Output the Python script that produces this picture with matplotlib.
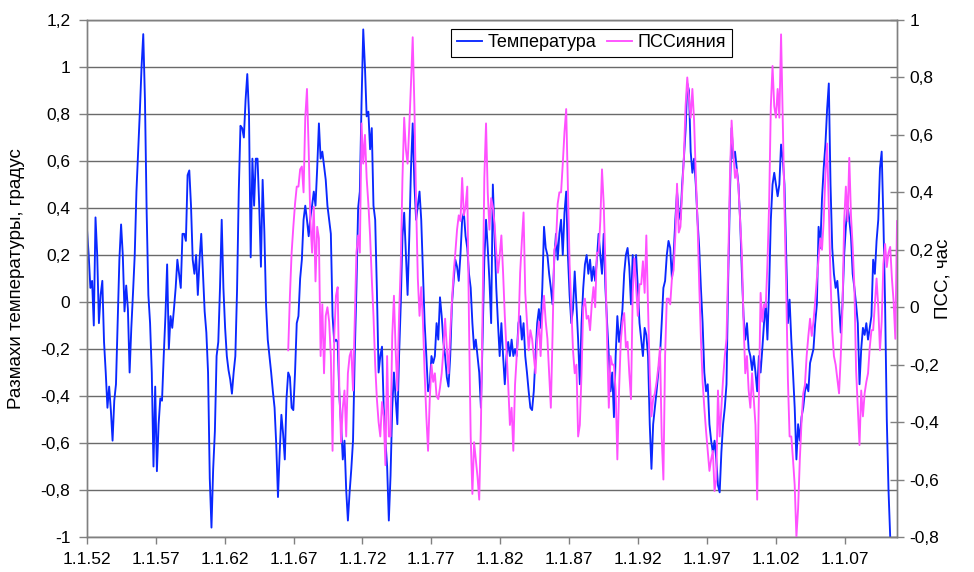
import numpy as np
import matplotlib.pyplot as plt

plt.rcParams['font.family'] = ['Liberation Sans', 'DejaVu Sans']

# readings every ~1.5 months starting January 1952
start_year = 1952.0
step = 0.1238
aurora_start = 118  # index of the first aurora reading (mid 1966)

# temperature range, degrees (left axis)
temp_1952 = [0.31, 0.20, 0.06, 0.09, -0.10, 0.36, 0.20, -0.09, 0.03, 0.09,
             -0.17, -0.30, -0.45, -0.36, -0.46, -0.59, -0.42, -0.35, -0.09, 0.18,
             0.33, 0.20, -0.04, 0.07, -0.03, -0.30, -0.11, 0.04, 0.20, 0.47,
             0.64, 0.81, 1.00, 1.14, 0.86, 0.38, 0.03, -0.09, -0.30, -0.70,
             -0.36, -0.72, -0.52, -0.41, -0.42, -0.23, -0.06, 0.16, -0.20, -0.06,
             -0.11, -0.03, 0.06, 0.18, 0.12, 0.06, 0.29, 0.29, 0.26, 0.54,
             0.56, 0.41, 0.18, 0.12, 0.20, 0.03, 0.18, 0.29, 0.12, -0.04,
             -0.13, -0.30]
temp_1961 = [-0.75, -0.96, -0.71, -0.55, -0.23, -0.17, 0.06, 0.35, 0.06, -0.11,
             -0.23, -0.29, -0.33, -0.39, -0.30, -0.23, 0.05, 0.47, 0.75, 0.74,
             0.70, 0.86, 0.97, 0.80, 0.19, 0.61, 0.41, 0.61, 0.61, 0.41,
             0.15, 0.52, 0.30, -0.01, -0.16, -0.23, -0.30, -0.38, -0.45, -0.61,
             -0.83, -0.64, -0.48, -0.56, -0.67, -0.41, -0.30, -0.32, -0.45, -0.46,
             -0.30, -0.09, -0.06, 0.10, 0.18, 0.35, 0.41, 0.35, 0.28, 0.36,
             0.41, 0.47, 0.41, 0.57, 0.76, 0.61, 0.64, 0.58, 0.52, 0.41,
             0.35, 0.29, -0.06, -0.17, -0.16, -0.17]
temp_1970 = [-0.40, -0.52, -0.67, -0.59, -0.80, -0.93, -0.81, -0.71, -0.59, -0.23,
             0.06, 0.40, 0.47, 0.85, 1.16, 1.00, 0.79, 0.81, 0.65, 0.74,
             0.41, 0.35, 0.05, -0.30, -0.23, -0.19, -0.45, -0.59, -0.70, -0.93,
             -0.74, -0.45, -0.30, -0.41, -0.52, -0.23, -0.01, 0.28, 0.38, 0.20,
             0.03, 0.28, 0.57, 0.76, 0.50, 0.35, 0.41, 0.47, 0.35, 0.13,
             -0.09, -0.23, -0.38, -0.35, -0.23, -0.26, -0.23, -0.09, -0.16, 0.02,
             -0.06, -0.17, -0.23, -0.32, -0.36, -0.23, -0.01, 0.09, 0.18, 0.15,
             0.09, 0.20, 0.35, 0.38, 0.28, 0.23]
temp_1980 = [0.12, 0.06, -0.09, -0.20, -0.16, -0.23, -0.30, -0.45, -0.15, 0.18,
             0.35, 0.23, 0.09, -0.09, 0.50, 0.28, 0.06, -0.09, -0.23, -0.09,
             -0.23, -0.35, -0.23, -0.17, -0.23, -0.16, -0.23, -0.20, -0.23, -0.09,
             -0.06, -0.16, -0.09, -0.23, -0.30, -0.38, -0.45, -0.46, -0.38, -0.23,
             -0.09, -0.03, -0.11, 0.06, 0.32, 0.23, 0.20, 0.12, 0.06, -0.01,
             0.18, 0.29, 0.18, 0.29, 0.35, 0.20, 0.38, 0.47, 0.20, 0.03,
             -0.09, -0.03, 0.13, -0.01, -0.16, -0.35, -0.09, 0.06, 0.16, 0.20,
             0.12, 0.18, 0.09, 0.15, 0.09, 0.18]
temp_1989 = [0.29, 0.20, 0.12, 0.29, 0.06, -0.09, -0.23, -0.38, -0.30, -0.49,
             -0.23, -0.06, -0.17, -0.11, -0.03, 0.12, 0.20, 0.23, 0.15, -0.01,
             0.20, 0.12, 0.20, 0.06, -0.09, -0.16, -0.23, -0.11, -0.14, -0.23,
             -0.52, -0.71, -0.52, -0.45, -0.38, -0.30, -0.23, -0.09, 0.06, 0.09,
             0.20, 0.26, 0.23, 0.10, 0.20, 0.35, 0.47, 0.38, 0.35, 0.50,
             0.61, 0.73, 0.93, 0.90, 0.64, 0.55, 0.61, 0.50, 0.35, 0.23,
             0.06, -0.09, -0.30, -0.38, -0.35, -0.52, -0.59, -0.64, -0.59, -0.67,
             -0.78, -0.81, -0.64, -0.52, -0.45, -0.35]
temp_1999 = [0.10, 0.45, 0.74, 0.61, 0.64, 0.57, 0.50, 0.35, 0.13, -0.06,
             -0.16, -0.09, -0.20, -0.23, -0.29, -0.23, -0.30, -0.38, -0.23, -0.30,
             -0.20, -0.09, 0.00, -0.16, 0.06, 0.35, 0.50, 0.55, 0.50, 0.45,
             0.50, 0.67, 0.61, 0.50, 0.20, -0.09, 0.01, -0.16, -0.30, -0.45,
             -0.67, -0.52, -0.59, -0.49, -0.45, -0.38, -0.35, -0.38, -0.26, -0.23,
             -0.20, -0.09, -0.01, 0.32, 0.23, 0.44, 0.57, 0.67, 0.82, 0.93,
             0.50, 0.23, 0.12, 0.06, 0.09, -0.01, -0.13, -0.01, 0.20, 0.32,
             0.41, 0.35, 0.28, 0.12, 0.06, -0.01, -0.09, -0.35, -0.20, -0.11,
             -0.14, -0.09, -0.16, -0.11, -0.06, 0.18, 0.12, 0.26, 0.35, 0.57,
             0.64, 0.35, -0.01, -0.50, -0.80, -1.00]

# aurora duration, hours (right axis)
aurora_1966 = [-0.15, 0.04, 0.19, 0.28, 0.36, 0.42, 0.42, 0.48, 0.49, 0.40,
               0.66, 0.76, 0.55, 0.30, 0.19, 0.35, 0.09, 0.28, 0.24, -0.17,
               0.01, -0.23, -0.03, 0.00, -0.05, -0.17, -0.50, -0.10, 0.04, 0.07]
aurora_1970 = [-0.29, -0.47, -0.35, -0.29, -0.45, -0.23, -0.17, -0.15, -0.29, -0.05,
               0.19, 0.25, 0.19, 0.64, 0.50, 0.60, 0.45, 0.36, 0.25, 0.10,
               -0.03, -0.20, -0.32, -0.40, -0.45, -0.33, -0.38, -0.55, -0.17, -0.45,
               -0.45, -0.10, 0.04, -0.15, -0.29, -0.03, 0.15, 0.45, 0.66, 0.55,
               0.50, 0.63, 0.78, 0.94, 0.70, 0.36, 0.10, -0.03, 0.07, -0.05,
               -0.23, -0.38, -0.50, -0.32, -0.20, -0.26, -0.23, -0.31, -0.32, -0.28,
               -0.23, -0.15, -0.04, -0.14, -0.23, -0.09, 0.02, 0.12, 0.19, 0.27,
               0.32, 0.30, 0.45, 0.32, 0.35, 0.42]
aurora_1980 = [-0.05, -0.45, -0.65, -0.47, -0.53, -0.59, -0.67, -0.41, 0.00, 0.45,
               0.64, 0.40, 0.27, 0.38, 0.35, 0.29, 0.19, 0.12, 0.18, 0.25,
               0.12, -0.03, -0.15, -0.27, -0.41, -0.35, -0.50, -0.27, -0.17, -0.08,
               0.12, 0.23, 0.33, 0.05, -0.05, -0.15, -0.08, -0.11, -0.17, -0.23,
               -0.11, -0.05, -0.17, -0.03, 0.04, -0.05, -0.11, -0.23, -0.35, -0.10,
               0.20, 0.22, 0.36, 0.40, 0.40, 0.50, 0.61, 0.69, 0.42, 0.15,
               0.00, -0.15, -0.23, -0.20, -0.45, -0.41, -0.23, 0.00, 0.03, -0.04,
               -0.03, -0.08, 0.01, 0.07, 0.00, 0.19]
aurora_1989 = [0.19, 0.30, 0.48, 0.36, 0.15, -0.12, -0.35, -0.17, -0.20, -0.20,
               -0.29, -0.53, -0.29, -0.12, -0.05, -0.02, -0.14, -0.12, -0.23, -0.32,
               0.05, 0.17, 0.07, -0.03, 0.08, 0.08, 0.16, 0.05, 0.25, 0.00,
               -0.23, -0.38, -0.32, -0.30, -0.26, -0.21, -0.14, -0.45, -0.60, -0.17,
               0.03, 0.03, 0.01, 0.10, 0.13, 0.25, 0.43, 0.26, 0.28, 0.40,
               0.52, 0.70, 0.80, 0.73, 0.66, 0.76, 0.65, 0.46, 0.30, 0.08,
               -0.11, -0.26, -0.35, -0.43, -0.50, -0.57, -0.53, -0.50, -0.64, -0.60,
               -0.29, -0.45, -0.35, -0.25, -0.17, -0.11]
aurora_1999 = [0.15, 0.45, 0.65, 0.54, 0.45, 0.48, 0.42, 0.30, 0.19, -0.05,
               -0.23, -0.17, -0.29, -0.35, -0.23, -0.32, -0.41, -0.67, -0.30, 0.05,
               -0.05, 0.01, 0.00, 0.15, 0.36, 0.70, 0.84, 0.70, 0.66, 0.76,
               0.66, 0.95, 0.65, 0.35, 0.07, -0.25, -0.45, -0.45, -0.53, -0.62,
               -0.80, -0.70, -0.53, -0.40, -0.30, -0.27, -0.17, -0.10, -0.04, -0.10,
               -0.05, 0.02, 0.10, 0.17, 0.24, 0.20, 0.30, 0.46, 0.57, 0.35,
               0.10, -0.08, -0.17, -0.20, -0.25, -0.30, -0.17, -0.01, 0.30, 0.42,
               0.30, 0.52, 0.32, 0.21, 0.07, -0.22, -0.35, -0.48, -0.29, -0.38,
               -0.30, -0.26, -0.23, -0.14, -0.08, -0.08, 0.01, 0.10, 0.00, -0.15,
               -0.05, 0.15, 0.22, 0.14, 0.19, 0.21, 0.10, 0.02, -0.11, 0.30]

tick_years = [1952, 1957, 1962, 1967, 1972, 1977, 1982, 1987, 1992, 1997, 2002, 2007]
tick_labels = ['1.1.52', '1.1.57', '1.1.62', '1.1.67', '1.1.72', '1.1.77',
               '1.1.82', '1.1.87', '1.1.92', '1.1.97', '1.1.02', '1.1.07']
left_ticks = [-1, -0.8, -0.6, -0.4, -0.2, 0, 0.2, 0.4, 0.6, 0.8, 1, 1.2]
left_labels = ['-1', '-0,8', '-0,6', '-0,4', '-0,2', '0', '0,2', '0,4', '0,6', '0,8', '1', '1,2']
right_ticks = [-0.8, -0.6, -0.4, -0.2, 0, 0.2, 0.4, 0.6, 0.8, 1]
right_labels = ['-0,8', '-0,6', '-0,4', '-0,2', '0', '0,2', '0,4', '0,6', '0,8', '1']

temp = np.concatenate([temp_1952, temp_1961, temp_1970, temp_1980, temp_1989, temp_1999])
aurora = np.concatenate([aurora_1966, aurora_1970, aurora_1980, aurora_1989, aurora_1999])
t_temp = start_year + step * np.arange(len(temp))
t_aurora = start_year + step * (aurora_start + np.arange(len(aurora)))

fig = plt.figure(figsize=(9.74, 5.72), dpi=100)
ax = fig.add_axes([0.0893, 0.0612, 0.8316, 0.9038])
ax2 = ax.twinx()

grey = '#808080'
line1, = ax.plot(t_temp, temp, color='#0A28FF', lw=1.35)
line2, = ax2.plot(t_aurora, aurora, color='#FF50FF', lw=1.35)

ax.set_xlim(1952, 2010.8)
ax.set_ylim(-1, 1.2)
ax2.set_ylim(-0.8, 1.0)

ax.set_xticks(tick_years)
ax.set_xticklabels(tick_labels)
ax.set_yticks(left_ticks)
ax.set_yticklabels(left_labels)
ax2.set_yticks(right_ticks)
ax2.set_yticklabels(right_labels)

ax.set_axisbelow(True)
ax.yaxis.grid(True, color='#6a6a6a', lw=1.0)

for a in (ax, ax2):
    for s in a.spines.values():
        s.set_color(grey)
        s.set_linewidth(1.0)

ax.tick_params(axis='y', direction='out', length=6, width=1, color=grey, pad=6, labelsize=12.5)
ax.tick_params(axis='x', direction='out', length=5, width=1, color=grey, pad=6, labelsize=12.5)
ax2.tick_params(axis='y', direction='inout', length=10, width=1, color=grey, pad=4, labelsize=12.5)

ax.set_ylabel('Размахи температуры, градус', fontsize=13.5)
ax.yaxis.set_label_coords(-0.077, 0.5)
ax2.set_ylabel('ПСС, час', fontsize=13.5)
ax2.yaxis.set_label_coords(1.046, 0.5)

leg = ax2.legend([line1, line2], ['Температура', 'ПССияния'], ncol=2,
                 loc='upper center', bbox_to_anchor=(0.623, 0.983),
                 fontsize=13, frameon=True, fancybox=False, framealpha=1,
                 edgecolor='black', handlelength=1.4, handletextpad=0.3,
                 columnspacing=0.6, borderpad=0.3, borderaxespad=0)
leg.get_frame().set_linewidth(0.8)

fig.savefig('out.png', dpi=100)
